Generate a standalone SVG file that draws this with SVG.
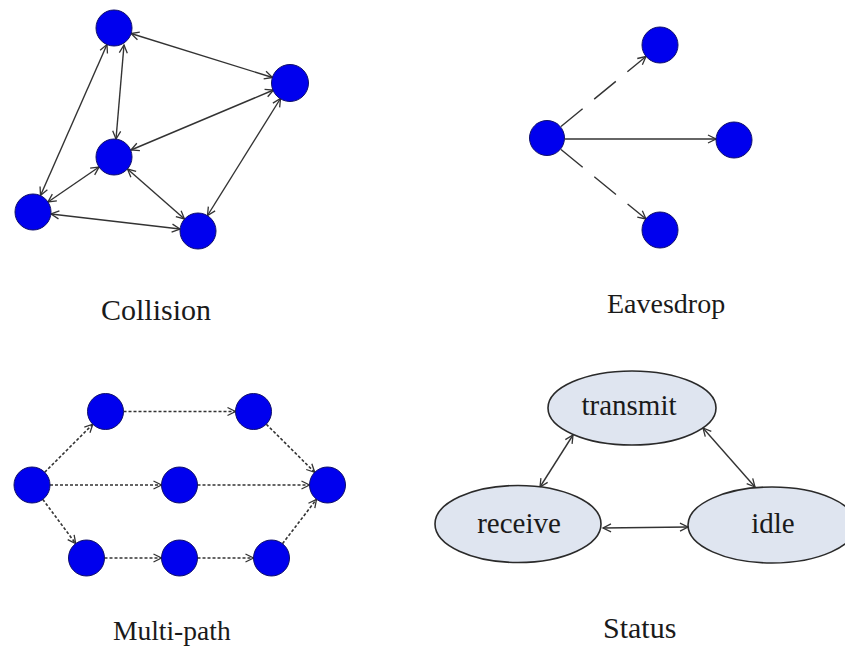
<svg xmlns="http://www.w3.org/2000/svg" width="845" height="649" viewBox="0 0 845 649">
<style>
.n{fill:#0000ee;stroke:#10106a;stroke-width:1}
.e{fill:#dfe5f0;stroke:#2a2a2a;stroke-width:1.6}
.c{fill:none;stroke:#333;stroke-width:1.4}
.dash{stroke-dasharray:28 15}
.dot{stroke-dasharray:3 2;stroke-width:1.6}
.t{font-family:"Liberation Serif","Times New Roman",serif;fill:#1a1a1a}
.et{font-size:29px;text-anchor:middle}
</style>
<defs>
<marker id="a" viewBox="-10 -6 12 12" refX="0" refY="0" markerWidth="12" markerHeight="12" markerUnits="userSpaceOnUse" orient="auto-start-reverse">
<path d="M-8,-4 L0,0 L-8,4" fill="none" stroke="#333" stroke-width="1.3"/>
</marker>
</defs>
<rect width="845" height="649" fill="#ffffff"/>
<g id="connectors">
<g class="c" marker-start="url(#a)" marker-end="url(#a)">
<line x1="131" y1="33.5" x2="272.5" y2="77.5"/>
<line x1="107" y1="44.5" x2="40.5" y2="195.5"/>
<line x1="124" y1="45" x2="116" y2="139"/>
<line x1="273.5" y1="90" x2="131" y2="150"/>
<line x1="280.5" y1="98.5" x2="207.5" y2="215.5"/>
<line x1="99" y1="167" x2="48" y2="202"/>
<line x1="127.5" y1="169" x2="184.5" y2="219"/>
<line x1="51" y1="214" x2="180" y2="229"/>
</g>
<g class="c" marker-end="url(#a)">
<line class="dash" x1="561" y1="126.5" x2="646" y2="56.5"/>
<line x1="565" y1="139" x2="716" y2="139"/>
<line class="dash" x1="561" y1="149.5" x2="646" y2="219"/>
</g>
<g class="c dot" marker-end="url(#a)">
<line x1="44.7" y1="472.3" x2="92.8" y2="424.2"/>
<line x1="123.5" y1="411.5" x2="235.5" y2="411.5"/>
<line x1="266.3" y1="424.2" x2="314.7" y2="472.3"/>
<line x1="50" y1="485" x2="161.5" y2="485"/>
<line x1="197.5" y1="485" x2="309.5" y2="485"/>
<line x1="42.8" y1="499.4" x2="75.7" y2="543.6"/>
<line x1="104.5" y1="558" x2="161.5" y2="558"/>
<line x1="197.5" y1="558" x2="253.5" y2="558"/>
<line x1="282.5" y1="543.7" x2="316.5" y2="499.3"/>
</g>
<g class="c" marker-start="url(#a)" marker-end="url(#a)">
<line x1="573" y1="435" x2="540" y2="487"/>
<line x1="703" y1="428" x2="755" y2="487"/>
<line x1="603" y1="528" x2="688" y2="527"/>
</g>
</g>
<g id="collision">
<circle id="c-a" class="n" cx="114" cy="28" r="18"/>
<circle id="c-b" class="n" cx="290" cy="83" r="18.5"/>
<circle id="c-c" class="n" cx="114" cy="157" r="18"/>
<circle id="c-d" class="n" cx="33" cy="212" r="18"/>
<circle id="c-e" class="n" cx="198" cy="231" r="18"/>
<text class="t" font-size="30" x="101" y="320">Collision</text>
</g>
<g id="eavesdrop">
<circle id="e-s" class="n" cx="547" cy="138" r="17.5"/>
<circle id="e-t" class="n" cx="660" cy="45" r="18"/>
<circle id="e-r" class="n" cx="734" cy="140" r="18"/>
<circle id="e-b" class="n" cx="660" cy="230" r="18"/>
<text class="t" font-size="28" x="607" y="313">Eavesdrop</text>
</g>
<g id="multipath">
<circle id="m-s" class="n" cx="32" cy="485" r="18"/>
<circle id="m-t1" class="n" cx="105.5" cy="411.5" r="18"/>
<circle id="m-t2" class="n" cx="253.5" cy="411.5" r="18"/>
<circle id="m-m" class="n" cx="179.5" cy="485" r="18"/>
<circle id="m-d" class="n" cx="327.5" cy="485" r="18"/>
<circle id="m-b1" class="n" cx="86.5" cy="558" r="18"/>
<circle id="m-b2" class="n" cx="179.5" cy="558" r="18"/>
<circle id="m-b3" class="n" cx="271.5" cy="558" r="18"/>
<text class="t" font-size="27.5" x="113" y="640">Multi-path</text>
</g>
<g id="status">
<g id="s-transmit"><ellipse class="e" cx="632" cy="408" rx="84" ry="37"/><text class="t et" x="629" y="415">transmit</text></g>
<g id="s-receive"><ellipse class="e" cx="518" cy="524" rx="83" ry="38.5"/><text class="t et" x="519" y="533">receive</text></g>
<g id="s-idle"><ellipse class="e" cx="772" cy="525" rx="84" ry="38"/><text class="t et" x="773" y="533">idle</text></g>
<text class="t" font-size="30" x="603" y="638">Status</text>
</g>
</svg>
